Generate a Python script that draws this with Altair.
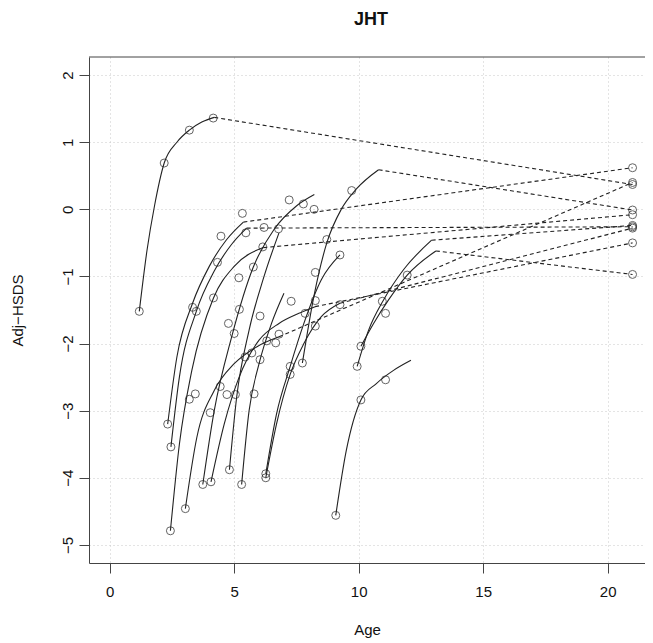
import altair as alt
import pandas as pd

# ---- observed measurements (circles) ----
circle_age = [1.19, 2.19, 3.20, 4.16, 5.33, 4.47, 4.33, 4.17, 5.47, 6.20, 6.78, 7.21, 7.78, 8.21,
              6.15, 5.77, 5.19, 5.21, 4.77, 5.00, 6.04, 7.29, 8.26, 8.26, 8.72, 9.25, 9.72, 9.25,
              7.85, 8.26, 6.80, 6.31, 10.95, 11.08, 10.09, 11.95, 9.94, 11.08, 10.09, 3.33, 3.48,
              3.20, 3.44, 4.04, 4.44, 4.71, 5.05, 5.44, 5.71, 6.04, 6.67, 5.80, 7.25, 7.25, 7.74,
              2.33, 2.46, 4.81, 5.30, 6.27, 6.27, 3.74, 4.07, 9.08, 3.04, 2.44]
circle_hsds = [-1.52, 0.69, 1.18, 1.36, -0.06, -0.40, -0.79, -1.32, -0.35, -0.27, -0.29, 0.14, 0.08, 0.00,
               -0.56, -0.86, -1.02, -1.49, -1.70, -1.85, -1.59, -1.37, -1.36, -0.94, -0.45, -0.68, 0.28, -1.42,
               -1.55, -1.74, -1.86, -1.96, -1.37, -1.55, -2.04, -0.98, -2.34, -2.54, -2.84, -1.46, -1.52,
               -2.83, -2.75, -3.03, -2.64, -2.76, -2.76, -2.20, -2.14, -2.24, -1.99, -2.75, -2.34, -2.46, -2.29,
               -3.20, -3.54, -3.88, -4.10, -3.94, -4.00, -4.10, -4.06, -4.56, -4.46, -4.79]

# ---- adult height at age 21 ----
adult_age = 21
adult_hsds = {"s01": 0.37, "s02": 0.62, "s03": -0.26, "s04": -0.08, "s05": 0.40,
              "s07": -0.50, "s11": -0.28, "s12": -0.01, "s14": -0.24, "s15": -0.97}

# ---- fitted growth curves ----
s01_age = [1.19, 1.5, 1.8, 2.19, 2.7, 3.2, 3.7, 4.2]
s01_hsds = [-1.52, -0.61, 0.05, 0.69, 1.0, 1.18, 1.3, 1.37]
s02_age = [2.33, 2.7, 3.33, 4.0, 4.7, 5.37]
s02_hsds = [-3.2, -2.2, -1.4, -0.85, -0.45, -0.19]
s03_age = [2.46, 2.8, 3.48, 4.2, 4.9, 5.5]
s03_hsds = [-3.54, -2.5, -1.52, -0.92, -0.52, -0.28]
s04_age = [2.44, 2.8, 3.3, 4.17, 5.0, 6.17]
s04_hsds = [-4.79, -3.5, -2.4, -1.32, -0.85, -0.57]
s05_age = [3.04, 3.5, 4.2, 5.0, 5.9, 6.8]
s05_hsds = [-4.46, -3.4, -2.7, -2.3, -2.05, -1.9]
s06_age = [3.74, 4.2, 4.9, 5.77, 6.6, 7.5, 8.22]
s06_hsds = [-4.10, -3.0, -1.9, -0.86, -0.3, 0.05, 0.22]
s07_age = [4.07, 4.6, 5.2, 6.0, 6.8, 7.6, 8.25]
s07_hsds = [-4.06, -3.2, -2.5, -1.95, -1.7, -1.55, -1.45]
s08_age = [4.81, 5.1, 5.6, 6.2, 6.8]
s08_hsds = [-3.88, -2.8, -1.8, -1.0, -0.35]
s09_age = [5.30, 5.6, 6.0, 6.5, 7.0]
s09_hsds = [-4.10, -3.0, -2.3, -1.7, -1.25]
s10_age = [6.27, 6.7, 7.25, 7.8, 8.5, 9.25]
s10_hsds = [-3.94, -3.05, -2.34, -1.7, -1.05, -0.68]
s11_age = [6.27, 6.7, 7.25, 7.8, 8.5, 9.25]
s11_hsds = [-4.00, -3.2, -2.46, -2.0, -1.6, -1.4]
s12_age = [7.74, 8.2, 8.72, 9.3, 9.9, 10.8]
s12_hsds = [-2.29, -1.3, -0.5, 0.0, 0.3, 0.59]
s13_age = [9.08, 9.5, 10.09, 10.7, 11.4, 12.1]
s13_hsds = [-4.56, -3.6, -2.84, -2.6, -2.4, -2.25]
s14_age = [9.94, 10.4, 11.0, 11.8, 12.93]
s14_hsds = [-2.34, -1.8, -1.35, -0.9, -0.46]
s15_age = [10.09, 10.6, 11.2, 11.95, 13.1]
s15_hsds = [-2.04, -1.7, -1.35, -0.98, -0.62]

curves = {
    "s01": (s01_age, s01_hsds), "s02": (s02_age, s02_hsds), "s03": (s03_age, s03_hsds),
    "s04": (s04_age, s04_hsds), "s05": (s05_age, s05_hsds), "s06": (s06_age, s06_hsds),
    "s07": (s07_age, s07_hsds), "s08": (s08_age, s08_hsds), "s09": (s09_age, s09_hsds),
    "s10": (s10_age, s10_hsds), "s11": (s11_age, s11_hsds), "s12": (s12_age, s12_hsds),
    "s13": (s13_age, s13_hsds), "s14": (s14_age, s14_hsds), "s15": (s15_age, s15_hsds),
}

curve_rows, dash_rows = [], []
for sid, (ages, vals) in curves.items():
    for i, (a, v) in enumerate(zip(ages, vals)):
        curve_rows.append({"id": sid, "age": a, "hsds": v, "ord": i})
    if sid in adult_hsds:
        dash_rows.append({"id": sid, "age": ages[-1], "hsds": vals[-1], "ord": 0})
        dash_rows.append({"id": sid, "age": adult_age, "hsds": adult_hsds[sid], "ord": 1})

pts = pd.DataFrame({"age": circle_age + [adult_age] * len(adult_hsds),
                    "hsds": circle_hsds + list(adult_hsds.values())})
curve_df = pd.DataFrame(curve_rows)
dash_df = pd.DataFrame(dash_rows)

W, H = 556, 506
FONT = "Liberation Sans"
xscale = alt.Scale(domain=[-0.83, 21.5], nice=False, zero=False)
yscale = alt.Scale(domain=[-5.27, 2.27], nice=False, zero=False)

xaxis = alt.Axis(values=[0, 5, 10, 15, 20], title="Age", grid=True, gridDash=[1, 3],
                 gridColor="#c8c8c8", gridWidth=1, tickSize=10, tickColor="#444444",
                 domainColor="#444444", labelFontSize=15, labelFont=FONT, labelColor="#111111",
                 labelPadding=11, titleFont=FONT, titleFontSize=15, titleFontWeight="normal",
                 titleColor="#111111", titlePadding=23, format="d")
yaxis = alt.Axis(values=[-5, -4, -3, -2, -1, 0, 1, 2], title="Adj\u2212HSDS", grid=True,
                 gridDash=[1, 3], gridColor="#c8c8c8", gridWidth=1, tickSize=10,
                 tickColor="#444444", domainColor="#444444", labelFontSize=15, labelFont=FONT,
                 labelColor="#111111", labelAngle=-90, labelAlign="center",
                 labelBaseline="bottom", labelPadding=4, titleFont=FONT, titleFontSize=15,
                 titleFontWeight="normal", titleColor="#111111", titlePadding=35, format="d")

base_x = alt.X("age:Q", scale=xscale, axis=xaxis)
base_y = alt.Y("hsds:Q", scale=yscale, axis=yaxis)

curve_layer = alt.Chart(curve_df).mark_line(interpolate="monotone", color="#222222",
                                            strokeWidth=1.1).encode(
    x=base_x, y=base_y, detail="id:N", order="ord:Q")
dash_layer = alt.Chart(dash_df).mark_line(color="#222222", strokeWidth=1.1,
                                          strokeDash=[4, 3]).encode(
    x="age:Q", y="hsds:Q", detail="id:N", order="ord:Q")
pt_layer = alt.Chart(pts).mark_point(shape="circle", filled=False, color="#222222",
                                     size=64, strokeWidth=1).encode(x="age:Q", y="hsds:Q")
one = pd.DataFrame({"a": [0]})
top_border = alt.Chart(one).mark_rule(color="#444444", strokeWidth=1).encode(
    x=alt.value(0), x2=alt.value(W + 10), y=alt.value(0))
title_text = alt.Chart(one).mark_text(text="JHT", font=FONT, fontSize=18, fontWeight="bold",
                                      color="#111111", align="center",
                                      baseline="alphabetic").encode(
    x=alt.value(W / 2 + 4), y=alt.value(-32))

chart = alt.layer(curve_layer, dash_layer, pt_layer, top_border, title_text).properties(
    width=W, height=H,
    padding={"left": 81, "top": 49, "right": 0, "bottom": 80},
    autosize="none",
).configure_view(stroke=None)

chart.save("out.html", embed_options={"renderer": "svg", "actions": False})
